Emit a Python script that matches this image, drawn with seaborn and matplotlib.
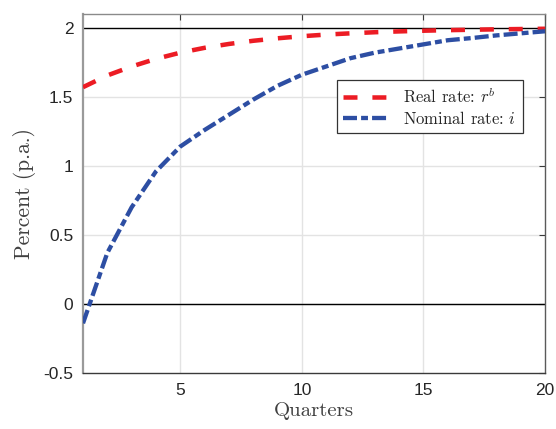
import matplotlib
matplotlib.use("Agg")
import matplotlib.pyplot as plt
import numpy as np
import pandas as pd
import seaborn as sns

# Quarterly paths of the policy rates (percent per annum)
quarters = list(range(1, 21))
real_rate = [1.57, 1.655, 1.72, 1.775, 1.82, 1.855, 1.883, 1.906, 1.924, 1.939,
             1.951, 1.960, 1.968, 1.974, 1.979, 1.983, 1.986, 1.989, 1.991, 1.993]
nominal_rate = [-0.14, 0.37, 0.70, 0.96, 1.14, 1.26, 1.37, 1.48, 1.58, 1.66,
                1.72, 1.78, 1.82, 1.85, 1.88, 1.91, 1.926, 1.945, 1.96, 1.975]

series_labels = ["Real rate: $r^b$", "Nominal rate: $i$"]
series_colors = ["#EC1C24", "#2D4EA3"]
x_ticks = [5, 10, 15, 20]
y_ticks = [-0.5, 0, 0.5, 1, 1.5, 2]
y_ticklabels = ["-0.5", "0", "0.5", "1", "1.5", "2"]

df = pd.DataFrame({"Quarter": quarters, "real": real_rate, "nominal": nominal_rate})

sns.set_theme(style="white")
plt.rcParams["font.family"] = ["Liberation Sans", "DejaVu Sans"]
plt.rcParams["mathtext.fontset"] = "cm"
serif = ["cmr10", "DejaVu Serif"]

W, H = 556, 429
fig = plt.figure(figsize=(W / 100, H / 100), dpi=100)
fig.patch.set_facecolor("white")
ax = fig.add_axes([83 / W, (H - 373) / H, 462 / W, 359 / H])

# Grid and reference lines
for xv in x_ticks[:-1]:
    ax.axvline(xv, color="#e3e3e3", lw=1.0, zorder=0)
for yv in y_ticks[1:-1]:
    ax.axhline(yv, color="#e3e3e3", lw=1.0, zorder=0)
ax.axhline(0, color="black", lw=1.0, zorder=1)
ax.axhline(2, color="black", lw=1.0, zorder=1)

sns.lineplot(data=df, x="Quarter", y="real", ax=ax, color=series_colors[0],
             lw=3.25, label=series_labels[0], zorder=3)
sns.lineplot(data=df, x="Quarter", y="nominal", ax=ax, color=series_colors[1],
             lw=3.1, label=series_labels[1], zorder=3)
red_line, blue_line = ax.lines[-2], ax.lines[-1]
red_line.set_dashes((3.1, 3.3))
blue_line.set_dashes((3.25, 0.95, 1.6, 0.95))
for ln in (red_line, blue_line):
    ln.set_dash_capstyle("butt")

ax.set_xlim(1, 20)
ax.set_ylim(-0.5, 2.1)
ax.set_xticks(x_ticks)
ax.set_xticklabels([str(t) for t in x_ticks])
ax.set_yticks(y_ticks)
ax.set_yticklabels(y_ticklabels)
ax.tick_params(axis="both", which="both", direction="in", length=4.5, width=0.8,
               colors="#3a3a3a", labelcolor="#262626", labelsize=12.5,
               top=True, right=True, pad=7)

ax.set_xlabel("Quarters", fontsize=15, color="#404040", labelpad=3, family=serif)
ax.set_ylabel("Percent (p.a.)", fontsize=15.5, color="#404040", labelpad=5, family=serif)

ax.spines["left"].set_color("#9a9a9a")
ax.spines["left"].set_linewidth(1.6)
ax.spines["top"].set_color("#8a8a8a")
ax.spines["top"].set_linewidth(1.0)
ax.spines["bottom"].set_color("#3a3a3a")
ax.spines["bottom"].set_linewidth(1.0)
ax.spines["right"].set_color("#5a5a5a")
ax.spines["right"].set_linewidth(1.0)

leg = ax.legend(handles=[red_line, blue_line], labels=series_labels,
                loc="upper right", bbox_to_anchor=(0.952, 0.816),
                prop={"family": serif, "size": 12},
                handlelength=2.65, handletextpad=0.95,
                borderpad=0.4, labelspacing=0.2, frameon=True,
                fancybox=False, framealpha=1.0, borderaxespad=0)
leg.get_frame().set_edgecolor("#333333")
leg.get_frame().set_linewidth(0.9)
for t in leg.get_texts():
    t.set_color("#262626")

fig.savefig("out.png", dpi=100)
